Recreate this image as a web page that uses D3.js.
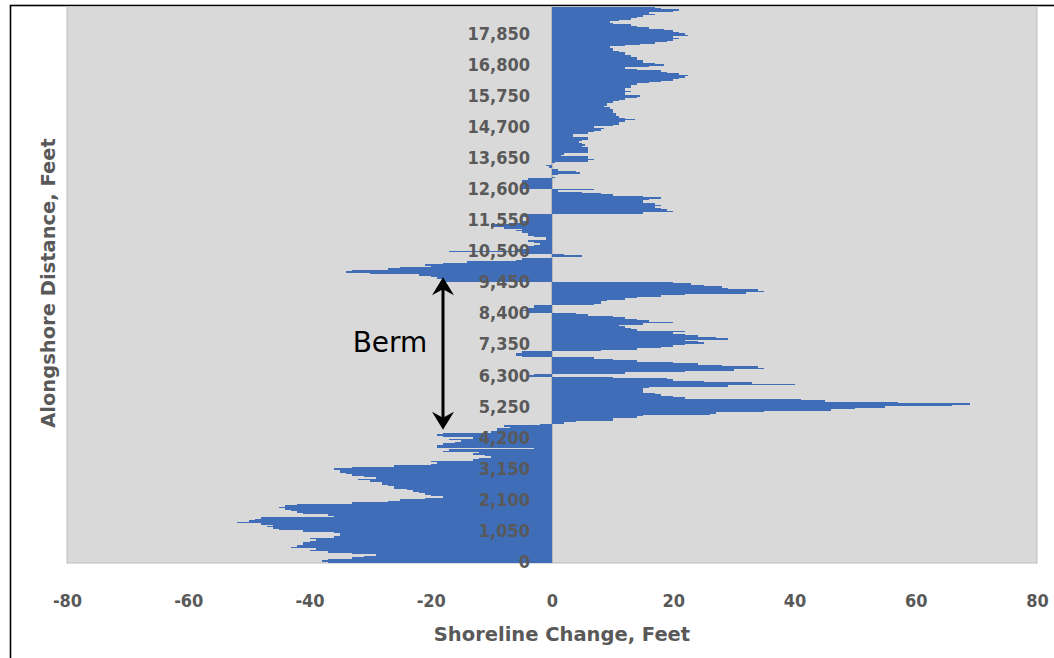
<!DOCTYPE html>
<html>
<head>
<meta charset="utf-8">
<script src="https://cdn.jsdelivr.net/npm/d3@7"></script>
<style>
  html, body { margin: 0; padding: 0; background: #ffffff; }
  svg { display: block; }
</style>
</head>
<body>
<svg id="chart" width="1054" height="658"></svg>
<script>
// Shoreline change (feet) at each 50-ft station, from station 0 northward.
const stationSpacing = 50;
const shorelineChange = [
  -37,-38,-37,-33,-31,-29,-33,-37,-40,-39,-43,-42,-41,-41,-40,-39,-40,-36,-35,-35,
  -36,-41,-45,-46,-47,-46,-48,-52,-50,-49,-48,-36,-37,-41,-42,-43,-44,-45,-44,-42,
  -33,-27,-25,-21,-18,-20,-21,-22,-23,-24,-26,-26,-27,-28,-28,-30,-32,-29,-31,-33,
  -34,-35,-35,-36,-33,-26,-20,-19,-20,-13,-12,-10,-11,-13,-12,-18,-17,-3,-19,-19,
  -18,-16,-15,-17,-13,-18,-19,-18,-10,-9,-9,-7,-8,-2,2,4,10,10,14,15,
  26,27,35,46,50,55,66,69,57,45,41,22,20,18,17,15,15,15,16,29,
  40,33,25,20,19,10,-4,-3,12,22,30,35,34,28,24,20,14,10,7,-5,
  -6,-6,-5,8,14,18,20,22,25,24,22,29,27,24,22,20,22,14,13,12,
  11,15,20,16,14,12,10,6,4,-4,-5,-4,-3,-3,7,8,8,9,12,14,
  18,22,32,35,34,29,28,25,23,20,-18,-18,-19,-20,-22,-30,-34,-33,-27,-25,
  -20,-21,-18,-14,-6,-5,0,5,2,-5,-17,-6,-4,-4,-3,-2,-3,-4,-1,-1,
  -3,-4,-4,-5,-6,-5,-8,-10,-10,-7,-5,-4,-4,-4,-5,-5,15,20,19,18,
  17,18,17,15,15,16,18,15,10,8,5,1,7,-5,-5,-5,-5,-5,-5,-4,
  0.5,0,1,4.6,4,1,0,-0.5,-1,0,0.5,6,7,6,6,1.5,2,6,6,6,
  6,5,5.5,5,4.5,5,6,6,3.5,3.5,6,7,8,8.5,7,10,11,11,12,13.7,
  12,11,10.5,10.5,10,10,10,9.5,8.5,9,9,10,11,12,14,14.5,12,12,13,12,
  12,13,13,14,16,18,20,21,22,22.5,21,19,18,14,12,16,18.5,17,15,15,
  14,14,13,12,12,11,10,10,9.5,12,14.5,17,19,20,21,20,22.5,22,21,20,
  18.5,16,14,13,10,9.5,11,13,14,15,17,16,20,21,18,17
];

// Alongshore distance labels shown on the category axis (every 21st station).
const distanceLabels = [
  "0","1,050","2,100","3,150","4,200","5,250","6,300","7,350","8,400",
  "9,450","10,500","11,550","12,600","13,650","14,700","15,750","16,800","17,850"
];
const labelEvery = 21;

// Value axis ticks.
const changeTicks = [-80, -60, -40, -20, 0, 20, 40, 60, 80];

// Extent of the beach-fill berm annotation (feet alongshore).
const bermStart = 4500;
const bermEnd = 9650;

const stations = shorelineChange.map((v, i) => ({ distance: i * stationSpacing, change: v }));

const svg = d3.select("#chart");
const plot = { left: 67, right: 1037, top: 6.5, bottom: 563 };

const x = d3.scaleLinear().domain([-80, 80]).range([plot.left, plot.right]);
const y = d3.scaleBand()
  .domain(stations.map(d => d.distance))
  .range([plot.bottom, plot.top])
  .padding(0);
// Continuous distance scale for the annotation arrow.
const yDist = d3.scaleLinear()
  .domain([0, stations.length * stationSpacing])
  .range([plot.bottom, plot.top]);

// Outer frame
svg.append("rect")
  .attr("x", 10.5).attr("y", 5.5)
  .attr("width", 1100).attr("height", 700)
  .attr("fill", "none").attr("stroke", "#000").attr("stroke-width", 1.6);

// Plot area
svg.append("rect")
  .attr("x", plot.left).attr("y", plot.top)
  .attr("width", plot.right - plot.left).attr("height", plot.bottom - plot.top)
  .attr("fill", "#d9d9d9").attr("stroke", "#bdbdbd").attr("stroke-width", 1);

// Zero axis line
svg.append("line")
  .attr("x1", x(0)).attr("x2", x(0))
  .attr("y1", plot.top).attr("y2", plot.bottom)
  .attr("stroke", "#9a9a9a").attr("stroke-width", 1);

// Bars
svg.append("g")
  .attr("shape-rendering", "crispEdges")
  .selectAll("rect")
  .data(stations)
  .join("rect")
  .attr("x", d => x(Math.min(0, d.change)))
  .attr("width", d => Math.abs(x(d.change) - x(0)))
  .attr("y", d => y(d.distance))
  .attr("height", y.bandwidth())
  .attr("fill", "#3f6db8");

const labelFont = "'DejaVu Sans Condensed', 'DejaVu Sans', sans-serif";
const titleFont = "'DejaVu Sans', sans-serif";

// Category axis (labels sit beside the zero line, over the bars)
const labelStations = stations.filter((d, i) => i % labelEvery === 0 && i / labelEvery < distanceLabels.length);
const yAxis = d3.axisLeft(y)
  .tickValues(labelStations.map(d => d.distance))
  .tickFormat(d => distanceLabels[d / stationSpacing / labelEvery])
  .tickSize(0)
  .tickPadding(22);
const gy = svg.append("g")
  .attr("transform", `translate(${x(0)},0)`)
  .call(yAxis);
gy.select(".domain").remove();
gy.selectAll("text")
  .attr("font-family", labelFont)
  .attr("font-weight", "bold")
  .attr("font-size", 18)
  .attr("fill", "#595959");

// Value axis
const xAxis = d3.axisBottom(x)
  .tickValues(changeTicks)
  .tickFormat(d => String(d))
  .tickSize(0)
  .tickPadding(31);
const gx = svg.append("g")
  .attr("transform", `translate(0,${plot.bottom})`)
  .call(xAxis);
gx.select(".domain").remove();
gx.selectAll("text")
  .attr("font-family", labelFont)
  .attr("font-weight", "bold")
  .attr("font-size", 18)
  .attr("fill", "#595959");

// Axis titles
svg.append("text")
  .attr("x", 562).attr("y", 641)
  .attr("text-anchor", "middle")
  .attr("font-family", titleFont)
  .attr("font-weight", "bold")
  .attr("font-size", 19.5)
  .attr("fill", "#595959")
  .text("Shoreline Change, Feet");

svg.append("text")
  .attr("transform", "translate(55,283) rotate(-90)")
  .attr("text-anchor", "middle")
  .attr("font-family", titleFont)
  .attr("font-weight", "bold")
  .attr("font-size", 19.5)
  .attr("fill", "#595959")
  .text("Alongshore Distance, Feet");

// Berm annotation: double-headed arrow and label
const arrowX = 443;
const yTop = yDist(bermEnd);
const yBot = yDist(bermStart);
const arrow = svg.append("g");
arrow.append("line")
  .attr("x1", arrowX).attr("x2", arrowX)
  .attr("y1", yTop + 6).attr("y2", yBot - 6)
  .attr("stroke", "#000").attr("stroke-width", 3);
arrow.append("path")
  .attr("d", `M${arrowX},${yTop} L${arrowX - 11},${yTop + 18} L${arrowX},${yTop + 12} L${arrowX + 11},${yTop + 18} Z`)
  .attr("fill", "#000");
arrow.append("path")
  .attr("d", `M${arrowX},${yBot} L${arrowX - 11},${yBot - 18} L${arrowX},${yBot - 12} L${arrowX + 11},${yBot - 18} Z`)
  .attr("fill", "#000");

svg.append("text")
  .attr("x", 390).attr("y", 352)
  .attr("text-anchor", "middle")
  .attr("font-family", "'DejaVu Sans', sans-serif")
  .attr("font-size", 28)
  .attr("fill", "#000")
  .text("Berm");
</script>
</body>
</html>
